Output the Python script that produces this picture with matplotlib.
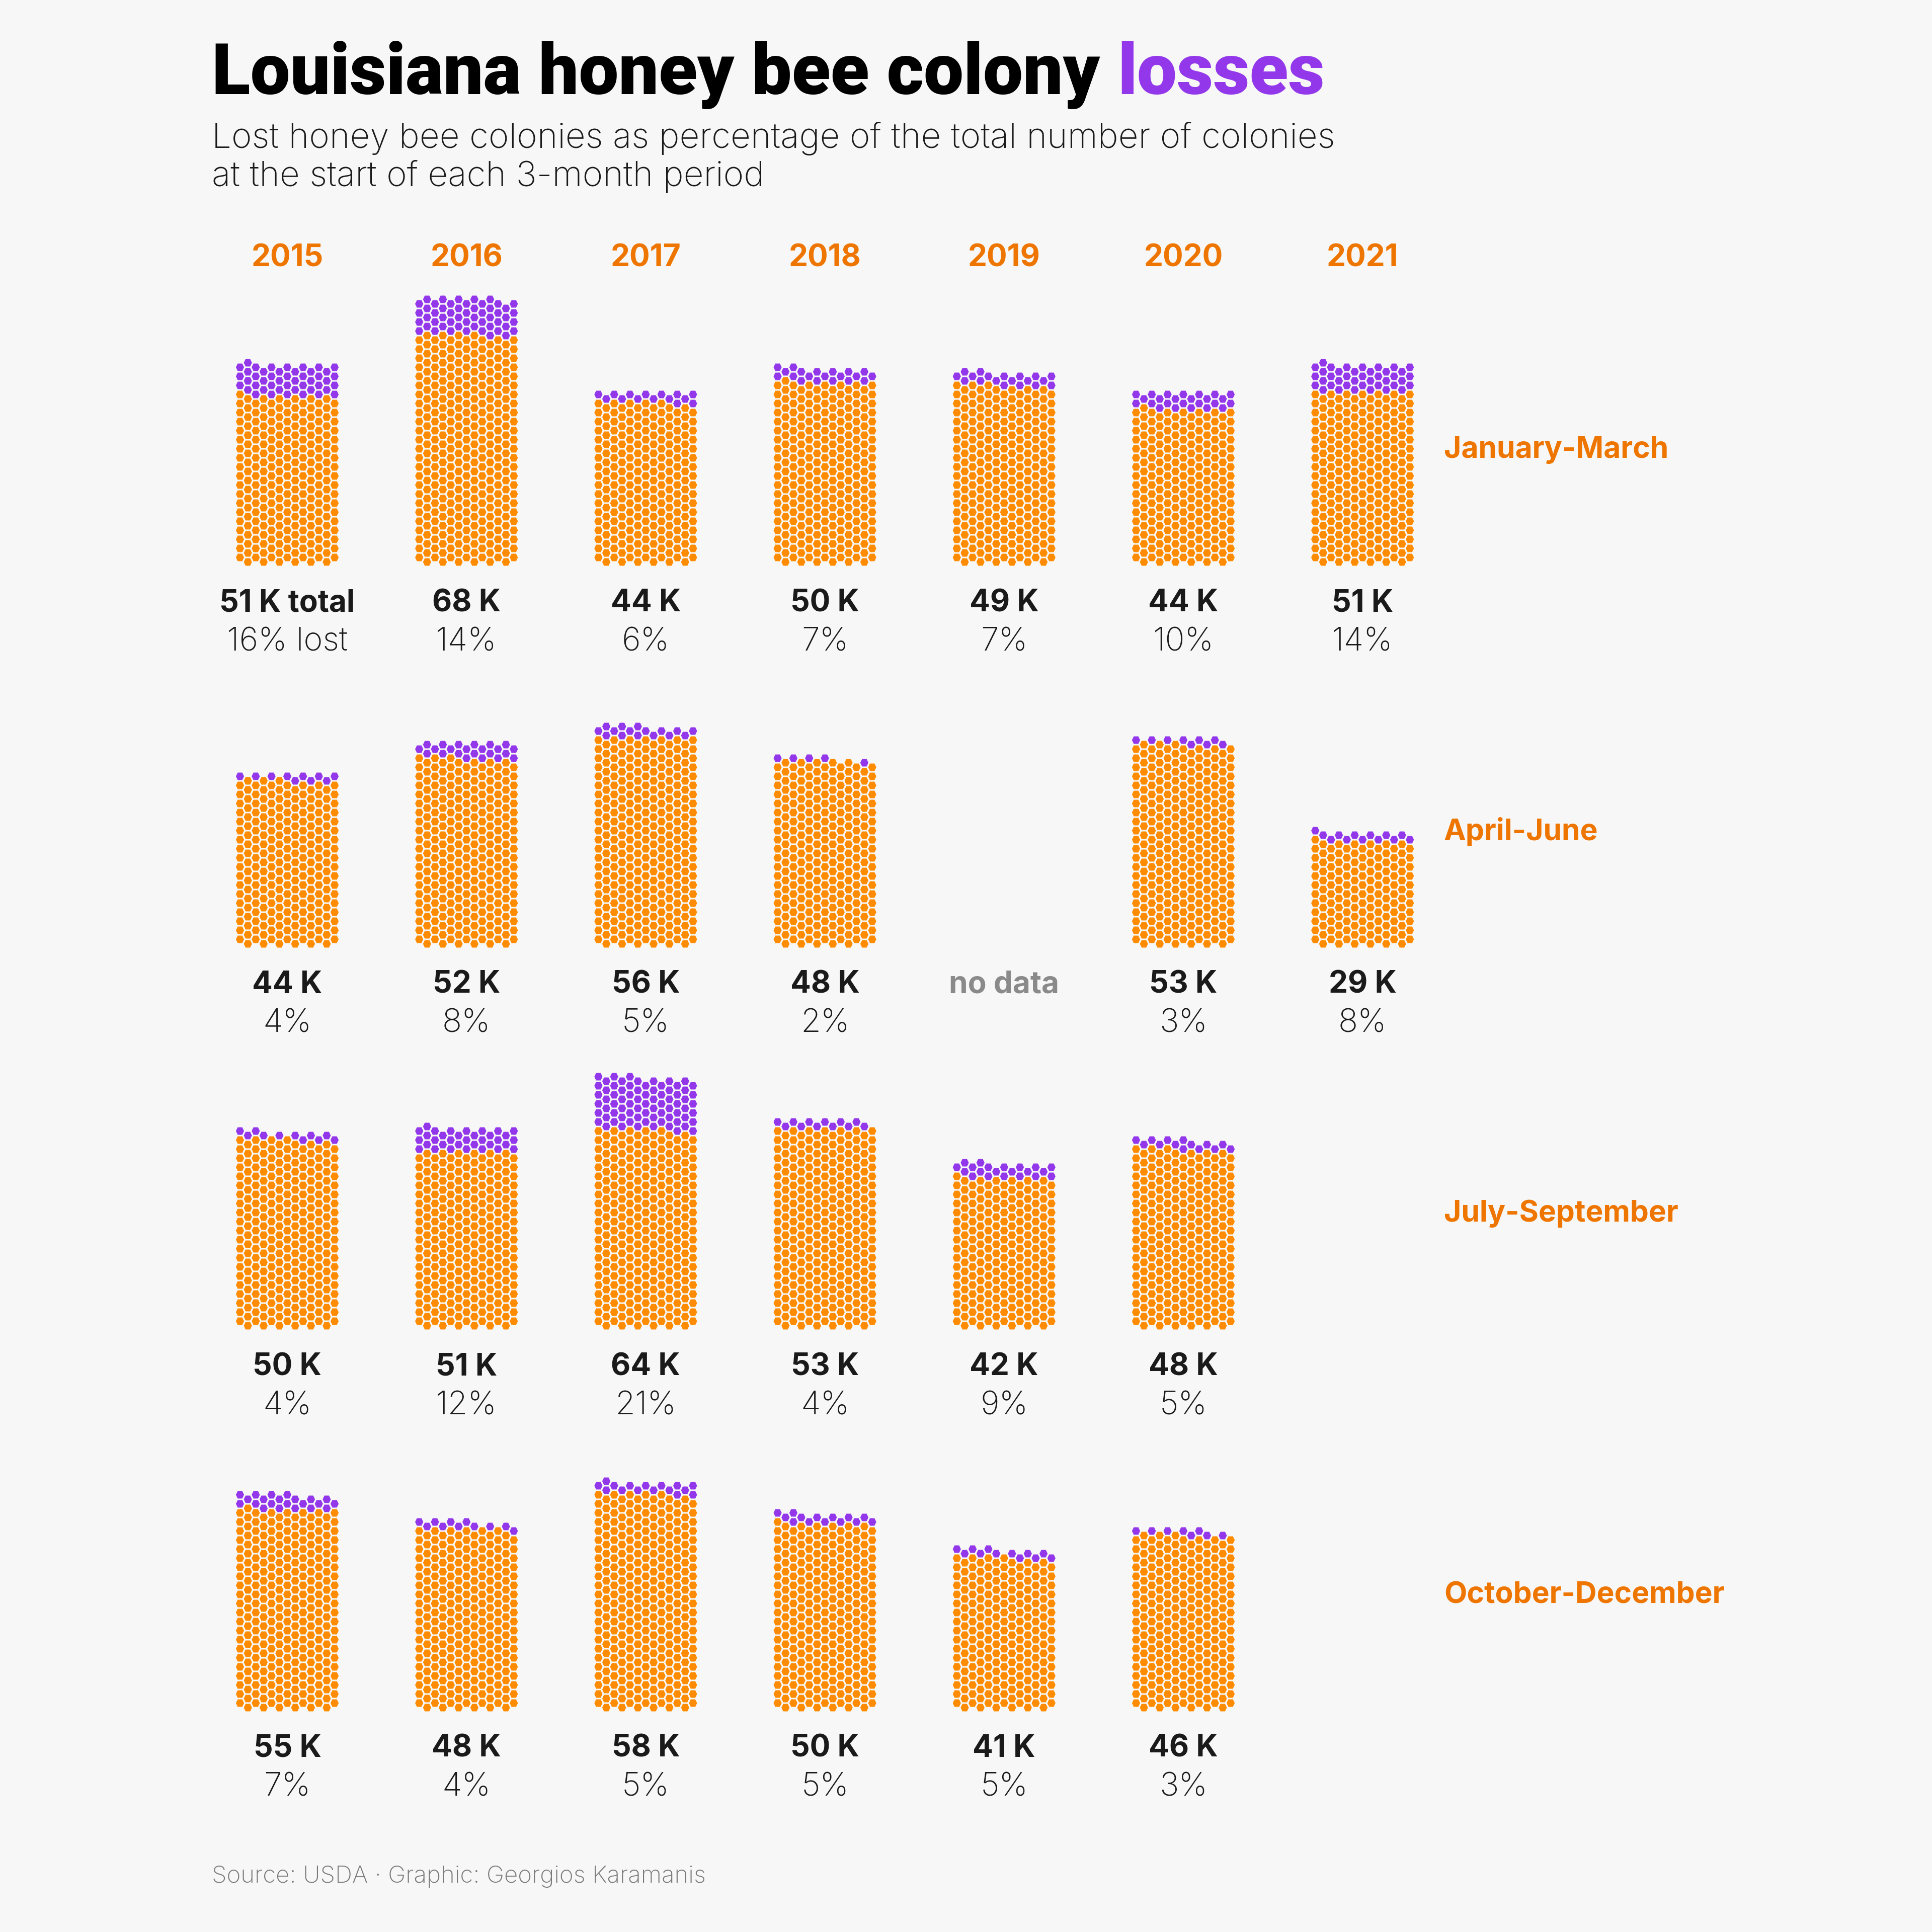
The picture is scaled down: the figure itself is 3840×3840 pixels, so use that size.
import numpy as np
import matplotlib
matplotlib.use("Agg")
import matplotlib.pyplot as plt
from matplotlib.path import Path

# ---------------- data ----------------
years = ["2015", "2016", "2017", "2018", "2019", "2020", "2021"]
quarters = ["January-March", "April-June", "July-September", "October-December"]

# colonies at start of period (thousands); None = no data
total_q1 = [51, 68, 44, 50, 49, 44, 51]
total_q2 = [44, 52, 56, 48, None, 53, 29]
total_q3 = [50, 51, 64, 53, 42, 48, None]
total_q4 = [55, 48, 58, 50, 41, 46, None]

# percentage of colonies lost
pct_q1 = [16, 14, 6, 7, 7, 10, 14]
pct_q2 = [4, 8, 5, 2, None, 3, 8]
pct_q3 = [4, 12, 21, 4, 9, 5, None]
pct_q4 = [7, 4, 5, 5, 5, 3, None]

totals = [total_q1, total_q2, total_q3, total_q4]
pcts = [pct_q1, pct_q2, pct_q3, pct_q4]
no_data_cells = [("April-June", "2019")]

COLONIES_PER_HEX = 178
NCOL = 13

# ---------------- style ----------------
BG = "#f7f7f7"
ORANGE = "#ff8c00"
ORANGE_TXT = "#ee7500"
PURPLE = "#9337ea"
DARK = "#1a1a1a"
GREY = "#8a8a8a"
FONT = ["Inter", "DejaVu Sans"]
TITLE_FONT = ["Roboto", "Inter", "DejaVu Sans"]

W = H = 3840
fig = plt.figure(figsize=(12.8, 12.8), dpi=300, facecolor=BG)
renderer = fig.canvas.get_renderer()

def fx(px):
    return px / W

def fy(py):
    return 1 - py / H

# hexagon marker (flat top)
hx, hy, ht = 1.0, 0.92, 0.56
hex_path = Path([(hx, 0), (ht, hy), (-ht, hy), (-hx, 0), (-ht, -hy), (ht, -hy), (hx, 0)],
                [Path.MOVETO] + [Path.LINETO] * 5 + [Path.CLOSEPOLY])

def hex_positions(n, ncol=NCOL):
    xs, ys = [], []
    layer = 0
    while len(xs) < n:
        if layer % 2 == 0:
            cols = range(1, ncol, 2)
            y = layer // 2
        else:
            cols = range(0, ncol, 2)
            y = layer // 2 + 0.5
        for c in cols:
            if len(xs) >= n:
                break
            xs.append(c)
            ys.append(y)
        layer += 1
    return np.array(xs), np.array(ys)

# layout (pixels on the 3840 canvas)
col_centers = [571 + 356.2 * i for i in range(len(years))]
row_base = [1117 + 759 * j for j in range(len(quarters))]
CS = 15.67  # px per hex column
RS = 18.0   # px per hex row
XL = (-1.5, NCOL + 0.5)
YL = (-1.0, 33.0)
hex_px = 16.2
marker_size = (hex_px * 72 / 300) ** 2

for qi, q in enumerate(quarters):
    for yi, yr in enumerate(years):
        cx = col_centers[yi]
        by = row_base[qi]
        tot = totals[qi][yi]
        pc = pcts[qi][yi]
        if tot is None:
            if (q, yr) in no_data_cells:
                fig.text(fx(cx), fy(by + 98), "no data", ha="center", va="baseline",
                         fontsize=14.5, fontweight="bold", color=GREY, family=FONT)
            continue
        left = cx - (6 - XL[0]) * CS
        width = (XL[1] - XL[0]) * CS
        bottom = by + (0 - YL[0]) * RS
        height = (YL[1] - YL[0]) * RS
        ax = fig.add_axes([fx(left), fy(bottom), fx(width), height / H])
        ax.set_xlim(*XL)
        ax.set_ylim(*YL)
        ax.axis("off")
        n = int(round(tot * 1000 / COLONIES_PER_HEX))
        m = int(round(n * pc / 100))
        xs, ys = hex_positions(n)
        colors = [ORANGE] * (n - m) + [PURPLE] * m
        ax.scatter(xs, ys, s=marker_size, marker=hex_path, c=colors, linewidths=0)

        lab = f"{tot} K total" if (qi == 0 and yi == 0) else f"{tot} K"
        plab = f"{pc}% lost" if (qi == 0 and yi == 0) else f"{pc}%"
        fig.text(fx(cx), fy(by + 98), lab, ha="center", va="baseline",
                 fontsize=14.5, fontweight="bold", color=DARK, family=FONT)
        fig.text(fx(cx), fy(by + 176), plab, ha="center", va="baseline",
                 fontsize=15.5, fontweight="light", color=DARK, family=FONT)

# year labels
for yi, yr in enumerate(years):
    fig.text(fx(col_centers[yi]), fy(529), yr, ha="center", va="baseline",
             fontsize=14.5, fontweight="bold", color=ORANGE_TXT, family=FONT)

# quarter labels
for qi, q in enumerate(quarters):
    fig.text(fx(2870), fy(row_base[qi] - 223), q, ha="left", va="center",
             fontsize=14.1, fontweight="bold", color=ORANGE_TXT, family=FONT)

# title (fit to the reference width)
title_a = "Louisiana honey bee colony "
title_b = "losses"
TITLE_W = 2211
probe = fig.text(0, 0, title_a + title_b, fontsize=34, fontweight="black", family=TITLE_FONT)
tw = probe.get_window_extent(renderer=renderer).width
probe.remove()
tsize = 34 * TITLE_W / tw
t1 = fig.text(fx(421), fy(187), title_a, ha="left", va="baseline",
              fontsize=tsize, fontweight="black", color="black", family=TITLE_FONT)
bb = t1.get_window_extent(renderer=renderer)
fig.text(bb.x1 / fig.bbox.width, fy(187), title_b, ha="left", va="baseline",
         fontsize=tsize, fontweight="black", color=PURPLE, family=TITLE_FONT)

# subtitle
fig.text(fx(421), fy(294), "Lost honey bee colonies as percentage of the total number of colonies",
         ha="left", va="baseline", fontsize=16.6, fontweight="light", color=DARK, family=FONT)
fig.text(fx(421), fy(370), "at the start of each 3-month period",
         ha="left", va="baseline", fontsize=16.6, fontweight="light", color=DARK, family=FONT)

# caption
fig.text(fx(421), fy(3742), "Source: USDA \u00b7 Graphic: Georgios Karamanis",
         ha="left", va="baseline", fontsize=11.4, fontweight="light", color="#7a7a7a", family=FONT)

fig.savefig("out.png", dpi=300, facecolor=BG)
